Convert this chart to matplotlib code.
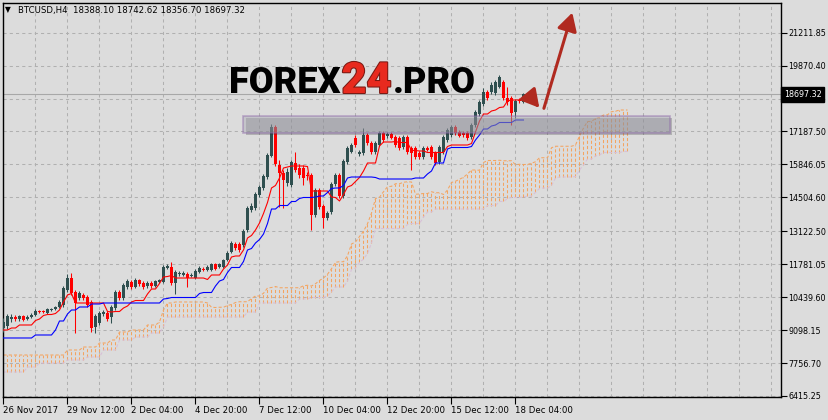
import numpy as np
import pandas as pd
import matplotlib.pyplot as plt
import matplotlib.patheffects as pe
from matplotlib import font_manager as fm
from matplotlib.patches import Rectangle, FancyArrowPatch

# BTCUSD H4 bars (bar 0 = first bar at the left edge)
opens = [9184, 9265, 9550, 9632, 9550, 9673, 9550, 9632, 9713, 9876,
         9876, 9795, 9917, 9957, 10039, 10120, 10731, 11220, 10650, 10405,
         10528, 10446, 10243, 9225, 9387, 9754, 9795, 9632, 9998, 10650,
         10405, 10853, 11057, 10853, 11138, 11016, 10894, 11016, 10894, 11057,
         11057, 11627, 11668, 11016, 11383, 11342, 11383, 11301, 11220, 11464,
         11587, 11546, 11546, 11790, 11668, 11668, 11953, 12279, 12604, 12604,
         12564, 13174, 13989, 14070, 14600, 14885, 15333, 16188, 17369, 15821,
         15496, 15088, 15007, 15903, 15699, 15699, 15414, 15414, 13785, 14803,
         14152, 13663, 13907, 15048, 15414, 14559, 15943, 16351, 16921, 16269,
         16310, 17043, 16717, 16351, 16636, 17124, 17002, 17084, 16961, 16921,
         16554, 16961, 16513, 16513, 16310, 16147, 16513, 16554, 16310, 15943,
         16351, 16839, 17043, 17369, 17165, 17124, 17124, 16961, 17450, 17898,
         18305, 18794, 18794, 18753, 18997, 19201, 18549, 18549, 17979, 18468,
         18388.10]
highs = [9591, 9754, 9754, 9713, 9713, 9713, 9713, 9795, 9957, 9917,
         9917, 9998, 9998, 10080, 10324, 10894, 11383, 11424, 10731, 10691,
         10609, 10528, 10324, 9754, 9876, 9917, 9876, 10120, 10731, 10731,
         11016, 11179, 11138, 11220, 11179, 11098, 11098, 11098, 11138, 11179,
         11749, 11790, 11871, 11546, 11505, 11505, 11464, 11424, 11587, 11709,
         11668, 11749, 11831, 11831, 11831, 11994, 12319, 12727, 12686, 12686,
         13216, 14152, 14274, 14722, 15007, 15455, 16310, 17491, 17450, 16025,
         15618, 15699, 16025, 16351, 15862, 15821, 15536, 15496, 14885, 14885,
         14233, 13948, 15129, 15496, 15496, 16066, 16595, 16717, 17043, 16432,
         17328, 17124, 16798, 16798, 17206, 17206, 17165, 17165, 17043, 17002,
         17043, 17043, 16595, 16595, 16391, 16595, 16595, 16636, 16391, 16636,
         17043, 17328, 17450, 17450, 17246, 17206, 17206, 17531, 18061, 18468,
         18957, 18875, 19201, 19282, 19486, 19282, 18997, 18631, 18509, 18549,
         18742.62]
lows = [9021, 9143, 9428, 9469, 9469, 9469, 9510, 9591, 9673, 9795,
        9795, 9754, 9876, 9917, 9998, 10039, 10650, 10528, 8980, 10324,
        10324, 10039, 9021, 8980, 9306, 9673, 9469, 9387, 9917, 10324,
        10324, 10772, 10772, 10813, 10894, 10772, 10813, 10813, 10853, 11016,
        11016, 11587, 10935, 10568, 11301, 11301, 10853, 11261, 11179, 11424,
        11505, 11505, 11505, 11546, 11627, 11627, 11912, 12238, 12360, 12279,
        12482, 13093, 13907, 13989, 14518, 14803, 15251, 16147, 15780, 14111,
        14070, 14966, 14925, 15536, 15292, 15007, 15210, 13174, 13704, 14029,
        13256, 13582, 13826, 14966, 14477, 14477, 15862, 16310, 16554, 16188,
        16228, 16636, 16269, 16269, 16595, 16758, 16921, 16880, 16554, 16432,
        16473, 16269, 15618, 16066, 16066, 16066, 16391, 16066, 15821, 15862,
        16269, 16758, 16961, 17043, 16961, 16961, 16839, 16880, 17369, 17816,
        18224, 18468, 18712, 18672, 18957, 18468, 18264, 17450, 17735, 18346,
        18356.70]
closes = [9428, 9673, 9632, 9550, 9673, 9510, 9632, 9713, 9876, 9835,
          9835, 9957, 9957, 10039, 10243, 10813, 11220, 10609, 10202, 10609,
          10405, 10120, 9184, 9673, 9795, 9835, 9550, 10039, 10650, 10405,
          10935, 11098, 10853, 11138, 10976, 10853, 11016, 10894, 11098, 11138,
          11668, 11709, 11016, 11464, 11424, 11424, 11220, 11342, 11505, 11627,
          11546, 11668, 11790, 11587, 11790, 11953, 12238, 12645, 12442, 12360,
          13134, 14070, 14152, 14641, 14925, 15373, 16228, 17369, 15862, 15496,
          15210, 15536, 15943, 15618, 15414, 15292, 15373, 13785, 14803, 14111,
          13663, 13867, 15048, 15414, 14559, 15984, 16513, 16636, 16636, 16351,
          17043, 16717, 16351, 16717, 17124, 16839, 17084, 16921, 16636, 16513,
          16961, 16351, 16310, 16147, 16147, 16513, 16432, 16147, 15903, 16554,
          16961, 17246, 17369, 17124, 17002, 17043, 16921, 17450, 17979, 18387,
          18794, 18549, 19079, 19201, 19405, 18549, 18387, 17939, 18427, 18427,
          18697.32]

# Ichimoku values at the left edge (they depend on bars before the window)
tenkan_start = [9102, 9102, 9184, 9184, 9306, 9306, 9306, 9306]
kijun_start = [8777] * 8 + [8899] * 5 + [9102] + [9469] * 2 + [9754] + [9917] * 2 + [10039] * 3 + [10161] * 3
span_a_start = ([8084] * 16 + [8288] * 4 + [8410] * 4 + [8573] * 3 + [8695] * 2 + [9021] * 3
                + [9102] * 4 + [9306] * 3 + [9428] + [9917] + [10202] * 2 + [10243] * 8)
span_b_start = ([7392] * 6 + [7596] * 3 + [7757] * 7 + [7881] * 5 + [8003] * 4 + [8288] * 4
                + [8695] * 4 + [8817] * 4 + [8980] * 3 + [9225] + [9632] * 20 + [9835] * 3
                + [10202] * 10 + [10365] * 3)

date_labels = ['26 Nov 2017', '29 Nov 12:00', '2 Dec 04:00', '4 Dec 20:00', '7 Dec 12:00',
               '10 Dec 04:00', '12 Dec 20:00', '15 Dec 12:00', '18 Dec 04:00']
price_ticks = [6415.25, 7756.70, 9098.15, 10439.60, 11781.05, 13122.50, 14504.60,
               15846.05, 17187.50, 18528.95, 19870.40, 21211.85]

# analyst drawings
zone_bars = (60, 166.6)
zone_prices = (17124, 17816)
arrow_short = ((130.9, 18753), (134.4, 18061))
arrow_long = ((134.9, 18020), (142.4, 22133))

# narrow font for the small MT4-style labels
fx, fy = 6.8, 6.4
cond = fm.findfont(fm.FontProperties(family='DejaVu Sans', stretch='condensed'))
names = {f.name for f in fm.fontManager.ttflist}
if 'Condensed' in cond:
    plt.rcParams['font.family'] = ['DejaVu Sans']
    plt.rcParams['font.stretch'] = 'condensed'
elif 'Liberation Sans Narrow' in names:
    plt.rcParams['font.family'] = ['Liberation Sans Narrow', 'DejaVu Sans']
    fx, fy = 7.3, 7
else:
    plt.rcParams['font.family'] = ['DejaVu Sans']
    fx, fy = 5.8, 5.6

# --- ichimoku
df = pd.DataFrame({'o': opens, 'h': highs, 'l': lows, 'c': closes})
tenkan = ((df.h.rolling(9).max() + df.l.rolling(9).min()) / 2).values
tenkan[:8] = tenkan_start
kijun = ((df.h.rolling(26).max() + df.l.rolling(26).min()) / 2).values
kijun[:25] = kijun_start
mid52 = ((df.h.rolling(52).max() + df.l.rolling(52).min()) / 2).values
span_a = np.r_[span_a_start, ((tenkan + kijun) / 2)[25:]]
span_b = np.r_[span_b_start, mid52[51:]]

bg = '#DCDCDC'
W, H = 829, 420
fig = plt.figure(figsize=(W / 100, H / 100), dpi=100, facecolor=bg)
ax = fig.add_axes([3 / W, (H - 397) / H, 778 / W, 394 / H], facecolor=bg)

x = np.arange(len(df))
xc = np.arange(len(span_a))

# cloud
ax.vlines(xc, span_b, span_a, colors='#F4A460', lw=0.75, linestyles=(0, (3, 2)), zorder=1)
ax.plot(xc, span_a, color='#F4A460', lw=0.75, ls=(0, (3, 2)), zorder=1)
ax.plot(xc, span_b, color='#D8BFD8', lw=0.75, ls=(0, (3, 2)), zorder=1)

# candles
up = df.c >= df.o
col = np.where(up, '#2F4F4F', '#FF0000')
ax.vlines(x, df.l, df.h, colors=col, lw=0.75, zorder=3)
body_lo = np.minimum(df.o, df.c)
body_h = np.maximum(np.abs(df.c - df.o), 35)
ax.bar(x, body_h, bottom=body_lo, width=0.75, color=col, linewidth=0, zorder=3)

ax.plot(x, tenkan, color='#FF0000', lw=0.8, zorder=4)
ax.plot(x, kijun, color='#0000FF', lw=0.8, zorder=4)

# bid line
last = closes[-1]
ax.axhline(last, color='#A8A8A8', lw=0.8, zorder=2)

# zone
rect = Rectangle((zone_bars[0], zone_prices[0]), zone_bars[1] - zone_bars[0],
                 zone_prices[1] - zone_prices[0], facecolor='#A8A8B4', alpha=0.45,
                 edgecolor='#8A62A8', lw=1.2, zorder=5,
                 path_effects=[pe.SimplePatchShadow(offset=(1.5, -1.5), alpha=0.25), pe.Normal()])
ax.add_patch(rect)

for (a, b) in [arrow_short, arrow_long]:
    ax.add_patch(FancyArrowPatch(a, b, arrowstyle='-|>,head_length=0.9,head_width=0.5',
                                 mutation_scale=12, color='#B02A20', lw=2.2, zorder=6))

# axes
ax.set_xlim(-0.125, 194.375)
ax.set_ylim(6374, 22418)
ax.set_xticks(np.arange(len(date_labels)) * 16)
ax.set_xticklabels(date_labels, ha='left', fontsize=fx)
ax.set_xticks(np.arange(0, 194, 8), minor=True)
ax.yaxis.tick_right()
ax.set_yticks(price_ticks)
ax.set_yticklabels(['%.2f' % v for v in price_ticks], fontsize=fy)
ax.tick_params(axis='x', which='major', length=5, width=0.8, pad=1.5, colors='black')
ax.tick_params(axis='x', which='minor', length=0)
ax.tick_params(axis='y', length=4, width=0.8, pad=1.5)
ax.grid(True, which='both', axis='x', color='#B0B0B0', ls=(0, (3, 3)), lw=0.75)
ax.grid(True, axis='y', color='#B0B0B0', ls=(0, (3, 3)), lw=0.75)
ax.set_axisbelow(True)
for s in ax.spines.values():
    s.set_color('black')
    s.set_linewidth(1)

ax.annotate('%.2f' % last, xy=(1, last), xycoords=('axes fraction', 'data'),
            xytext=(2, 0), textcoords='offset points', va='center', ha='left',
            fontsize=fy, color='white', zorder=10, annotation_clip=False,
            bbox=dict(boxstyle='square,pad=0.3', fc='black', ec='black'))

fig.text(5 / W, 1 - 10 / H, '\u25bc', fontsize=6, va='center', family='DejaVu Sans')
fig.text(18 / W, 1 - 10 / H, 'BTCUSD,H4  18388.10 18742.62 18356.70 18697.32',
         fontsize=fx, va='center')

# watermark
fig.canvas.draw()
r = fig.canvas.get_renderer()
base = 1 - 93 / H
wm = dict(family=['Roboto', 'DejaVu Sans'], fontweight='black', fontstretch='normal',
          va='baseline', zorder=10)
t1 = fig.text(229 / W, base, 'FOREX', fontsize=26, color='black', **wm)
bb = t1.get_window_extent(r)
t2 = fig.text(bb.x1 / W + 1 / W, base, '24', fontsize=31, color='#E82A1E',
              path_effects=[pe.withStroke(linewidth=1.5, foreground='#7A1A14')], **wm)
bb = t2.get_window_extent(r)
fig.text(bb.x1 / W + 1 / W, base, '.PRO', fontsize=26, color='black', **wm)

fig.savefig('out.png', dpi=100, facecolor=bg)
